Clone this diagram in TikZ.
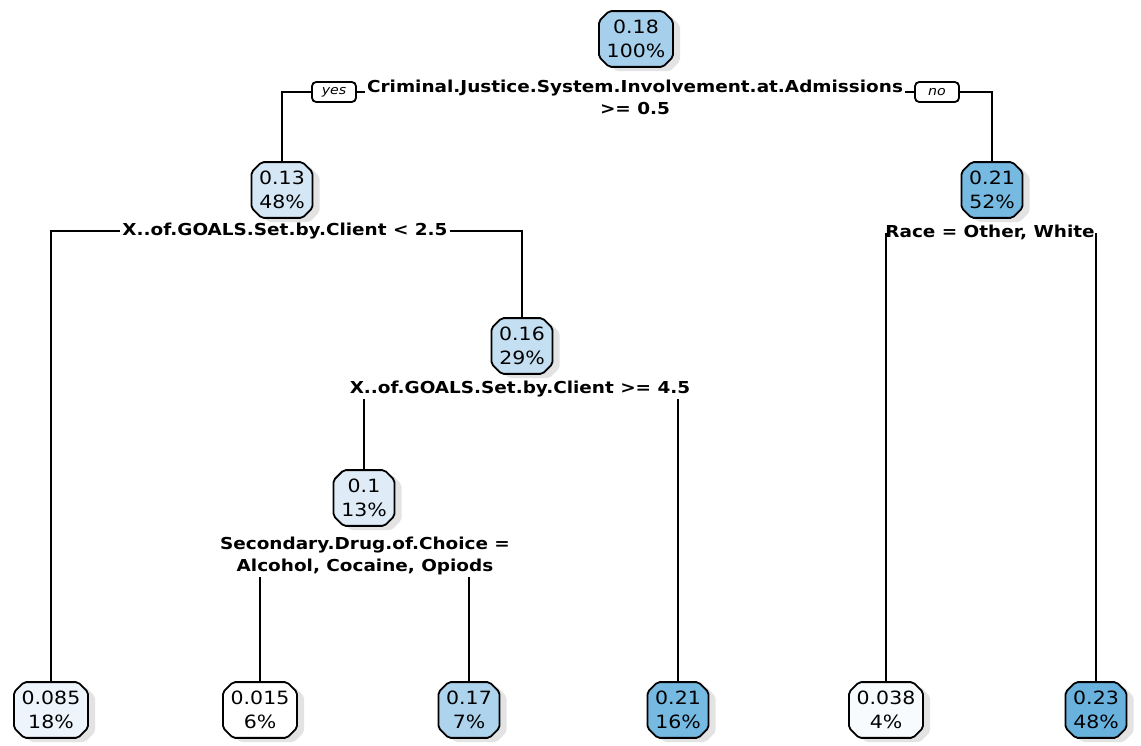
\documentclass[tikz,border=0pt]{standalone}
\usepackage{fontspec}
\setmainfont{DejaVu Sans}[FakeStretch=1.12]
\usetikzlibrary{shapes.misc,shadows}
\definecolor{Blue0}{HTML}{FFFFFF}
\definecolor{Blue1}{HTML}{F7FBFE}
\definecolor{Blue2}{HTML}{EDF4FB}
\definecolor{Blue3}{HTML}{DFECF8}
\definecolor{Blue4}{HTML}{D5E7F5}
\definecolor{Blue5}{HTML}{C4DEF2}
\definecolor{Blue6}{HTML}{ADD3ED}
\definecolor{Blue7}{HTML}{A6CFEB}
\definecolor{Blue8}{HTML}{76BAE2}
\definecolor{Blue9}{HTML}{69B2DE}
\begin{document}
\begin{tikzpicture}[x=0.025cm,y=-0.025cm,line width=1.3pt,
      fitbox/.style={chamfered rectangle,chamfered rectangle xsep=3.5pt,draw,rounded corners=1.5pt,
        align=center,inner xsep=2pt,inner ysep=2.5pt,font=\fontsize{13}{17.5}\selectfont,
        drop shadow={shadow xshift=5pt,shadow yshift=-3pt,fill=black!22}},
      split/.style={align=center,inner sep=1pt,font=\bfseries\fontsize{11.7}{15.5}\selectfont},
      yesno/.style={draw,rounded corners=3pt,minimum width=1.1cm,minimum height=0.5cm,
        inner sep=0pt,font=\itshape\fontsize{9}{9}\selectfont}]
  \useasboundingbox (0,0) rectangle (1141,745);
  % inner nodes
  \node[fitbox,fill=Blue7] (n1) at (636,39) {0.18\\100\%};
  \node[fitbox,fill=Blue4] (n2) at (282,190) {0.13\\48\%};
  \node[fitbox,fill=Blue8] (n3) at (992,190) {0.21\\52\%};
  \node[fitbox,fill=Blue5] (n5) at (522,346) {0.16\\29\%};
  \node[fitbox,fill=Blue3] (n10) at (364,498) {0.1\\13\%};
  % leaves
  \node[fitbox,fill=Blue2] (l4) at (51,710) {0.085\\18\%};
  \node[fitbox,fill=Blue0] (l20) at (260,710) {0.015\\6\%};
  \node[fitbox,fill=Blue6] (l21) at (469,710) {0.17\\7\%};
  \node[fitbox,fill=Blue8] (l11) at (678,710) {0.21\\16\%};
  \node[fitbox,fill=Blue1] (l6) at (886,710) {0.038\\4\%};
  \node[fitbox,fill=Blue9] (l7) at (1096,710) {0.23\\48\%};
  % split labels
  \node[split] (s1) at (635,97) {Criminal.Justice.System.Involvement.at.Admissions\\>= 0.5};
  \node[split] (s2) at (285,231) {X..of.GOALS.Set.by.Client < 2.5};
  \node[split] (s3) at (990,232) {Race = Other, White};
  \node[split] (s5) at (520,389) {X..of.GOALS.Set.by.Client >= 4.5};
  \node[split] (s10) at (365,556) {Secondary.Drug.of.Choice =\\Alcohol, Cocaine, Opiods};
  \node[yesno] (yes) at (334,92) {yes};
  \node[yesno] (no) at (937,92) {no};
  % branches
  \draw (yes.west) -| (n2.north);
  \draw (yes.east) -- (yes.east -| s1.west);
  \draw (no.west) -- (no.west -| s1.east);
  \draw (no.east) -| (n3.north);
  \draw (s2.west) -| (l4.north);
  \draw (s2.east) -| (n5.north);
  \draw (l6.north |- s3.mid) -- (l6.north);
  \draw (l7.north |- s3.mid) -- (l7.north);
  \draw (n10.north |- s5.south) -- (n10.north);
  \draw (l11.north |- s5.south) -- (l11.north);
  \draw (l20.north |- s10.south) -- (l20.north);
  \draw (l21.north |- s10.south) -- (l21.north);
\end{tikzpicture}
\end{document}
